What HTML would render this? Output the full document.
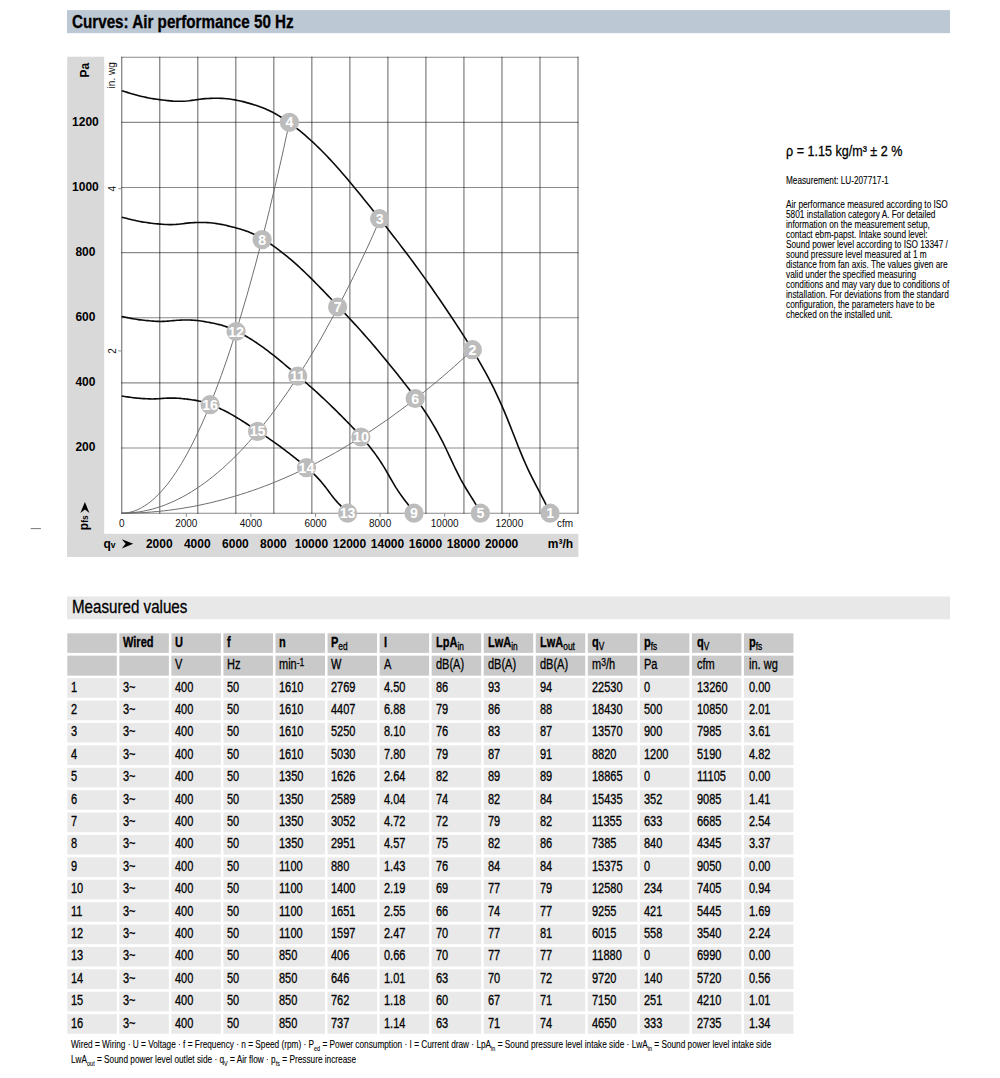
<!DOCTYPE html>
<html><head><meta charset="utf-8"><title>Curves: Air performance 50 Hz</title>
<style>
html,body{margin:0;padding:0;background:#fff}
body{width:1000px;height:1078px;position:relative;overflow:hidden;font-family:"Liberation Sans",sans-serif}
.t{position:absolute;white-space:nowrap;transform-origin:0 50%;color:#000;-webkit-text-stroke:0.3px #000}
.sb{font-size:66%;position:relative;top:0.34em;line-height:0}
.sn{font-weight:normal;font-size:76%;top:0.28em}
.sp{font-size:78%;position:relative;top:-0.36em;line-height:0}
</style></head><body>
<svg width="1000" height="1078" viewBox="0 0 1000 1078" style="position:absolute;left:0;top:0" font-family="Liberation Sans, sans-serif">
<rect x="67" y="10.1" width="883" height="23.1" fill="#bcc8d4"/>
<rect x="67" y="596.5" width="883" height="22.8" fill="#e8e8e8"/>
<rect x="67.2" y="56.7" width="37" height="500.3" fill="#d9d9d9"/>
<rect x="67.2" y="533.8" width="511.2" height="23.2" fill="#d9d9d9"/>
<rect x="30.7" y="528.1" width="10.2" height="1" fill="#777"/>
<path d="M121.70,56.7V513.7M159.72,56.7V513.7M197.75,56.7V513.7M235.78,56.7V513.7M273.80,56.7V513.7M311.82,56.7V513.7M349.85,56.7V513.7M387.88,56.7V513.7M425.90,56.7V513.7M463.92,56.7V513.7M501.95,56.7V513.7M539.98,56.7V513.7M578.00,56.7V513.7" stroke="#000" stroke-opacity="0.46" stroke-width="1.35" fill="none"/>
<path d="M121.2,57.20H578.5M121.2,122.34H578.5M121.2,187.49H578.5M121.2,252.63H578.5M121.2,317.77H578.5M121.2,382.91H578.5M121.2,448.06H578.5M121.2,513.20H578.5" stroke="#000" stroke-opacity="0.46" stroke-width="1.1" fill="none"/>
<path d="M118.2,350.9H121.7M118.2,188.7H121.7M186.3,513.2V516.8000000000001M250.9,513.2V516.8000000000001M315.5,513.2V516.8000000000001M380.1,513.2V516.8000000000001M444.7,513.2V516.8000000000001M509.3,513.2V516.8000000000001" stroke="#8a8a8a" stroke-width="1" fill="none"/>
<path d="M121.7,513.2 L124.5,513.1 L127.4,512.8 L130.2,512.2 L133.1,511.4 L135.9,510.4 L138.8,509.2 L141.6,507.7 L144.4,506.0 L147.3,504.1 L150.1,502.0 L153.0,499.6 L155.8,497.0 L158.6,494.2 L161.5,491.2 L164.3,487.9 L167.2,484.5 L170.0,480.8 L172.9,476.8 L175.7,472.7 L178.5,468.3 L181.4,463.7 L184.2,458.9 L187.1,453.8 L189.9,448.5 L192.8,443.0 L195.6,437.3 L198.4,431.3 L201.3,425.2 L204.1,418.8 L207.0,412.1 L209.8,405.3 L212.7,398.2 L215.5,390.9 L218.3,383.4 L221.2,375.7 L224.0,367.7 L226.9,359.5 L229.7,351.1 L232.5,342.4 L235.4,333.5 L238.2,324.5 L241.1,315.1 L243.9,305.6 L246.8,295.8 L249.6,285.8 L252.4,275.6 L255.3,265.2 L258.1,254.5 L261.0,243.6 L263.8,232.5 L266.7,221.2 L269.5,209.6 L272.3,197.8 L275.2,185.8 L278.0,173.5 L280.9,161.1 L283.7,148.4 L286.5,135.5 L289.4,122.3" stroke="#666" stroke-width="0.95" fill="none"/>
<path d="M121.7,513.2 L126.1,513.1 L130.4,512.9 L134.8,512.4 L139.2,511.9 L143.6,511.1 L147.9,510.2 L152.3,509.1 L156.7,507.8 L161.1,506.4 L165.4,504.8 L169.8,503.0 L174.2,501.1 L178.5,499.0 L182.9,496.7 L187.3,494.3 L191.7,491.6 L196.0,488.9 L200.4,485.9 L204.8,482.8 L209.2,479.5 L213.5,476.1 L217.9,472.4 L222.3,468.7 L226.6,464.7 L231.0,460.6 L235.4,456.3 L239.8,451.8 L244.1,447.2 L248.5,442.4 L252.9,437.4 L257.3,432.3 L261.6,427.0 L266.0,421.5 L270.4,415.9 L274.8,410.0 L279.1,404.1 L283.5,397.9 L287.9,391.6 L292.2,385.1 L296.6,378.5 L301.0,371.6 L305.4,364.6 L309.7,357.5 L314.1,350.2 L318.5,342.7 L322.9,335.0 L327.2,327.2 L331.6,319.2 L336.0,311.0 L340.3,302.7 L344.7,294.2 L349.1,285.5 L353.5,276.6 L357.8,267.6 L362.2,258.5 L366.6,249.1 L371.0,239.6 L375.3,229.9 L379.7,220.1" stroke="#666" stroke-width="0.95" fill="none"/>
<path d="M121.7,513.2 L127.6,513.2 L133.6,513.0 L139.5,512.8 L145.5,512.5 L151.4,512.0 L157.3,511.5 L163.3,510.9 L169.2,510.2 L175.2,509.4 L181.1,508.5 L187.0,507.5 L193.0,506.5 L198.9,505.3 L204.8,504.0 L210.8,502.7 L216.7,501.2 L222.7,499.7 L228.6,498.0 L234.5,496.3 L240.5,494.5 L246.4,492.6 L252.4,490.6 L258.3,488.5 L264.2,486.3 L270.2,484.0 L276.1,481.6 L282.1,479.1 L288.0,476.5 L293.9,473.9 L299.9,471.1 L305.8,468.2 L311.7,465.3 L317.7,462.3 L323.6,459.1 L329.6,455.9 L335.5,452.6 L341.4,449.2 L347.4,445.6 L353.3,442.0 L359.3,438.3 L365.2,434.6 L371.1,430.7 L377.1,426.7 L383.0,422.6 L389.0,418.5 L394.9,414.2 L400.8,409.9 L406.8,405.4 L412.7,400.9 L418.6,396.2 L424.6,391.5 L430.5,386.7 L436.5,381.8 L442.4,376.8 L448.3,371.7 L454.3,366.5 L460.2,361.2 L466.2,355.8 L472.1,350.3" stroke="#666" stroke-width="0.95" fill="none"/>
<path d="M121.80,90.80 L124.49,91.57 L127.19,92.38 L129.88,93.20 L132.58,94.01 L135.27,94.79 L137.97,95.52 L140.66,96.20 L143.36,96.82 L146.05,97.40 L148.75,97.93 L151.44,98.42 L154.14,98.87 L156.83,99.28 L159.53,99.65 L162.22,100.00 L164.92,100.32 L167.61,100.62 L170.31,100.88 L173.00,101.10 L175.70,101.24 L178.39,101.31 L181.09,101.29 L183.78,101.18 L186.48,100.99 L189.17,100.73 L191.87,100.39 L194.56,100.01 L197.26,99.61 L199.95,99.23 L202.65,98.90 L205.34,98.64 L208.04,98.45 L210.73,98.33 L213.43,98.26 L216.12,98.24 L218.82,98.27 L221.51,98.36 L224.21,98.52 L226.90,98.74 L229.60,99.04 L232.29,99.42 L234.99,99.88 L237.68,100.41 L240.38,101.00 L243.07,101.65 L245.77,102.36 L248.46,103.11 L251.16,103.89 L253.85,104.71 L256.55,105.58 L259.24,106.51 L261.94,107.50 L264.63,108.57 L267.33,109.73 L270.02,110.98 L272.72,112.33 L275.41,113.78 L278.11,115.33 L280.80,116.97 L283.50,118.70 L286.19,120.51 L288.89,122.41 L291.58,124.37 L294.28,126.41 L296.97,128.51 L299.67,130.68 L302.36,132.91 L305.06,135.20 L307.75,137.56 L310.45,139.98 L313.14,142.46 L315.84,145.01 L318.53,147.61 L321.23,150.28 L323.92,153.00 L326.62,155.79 L329.31,158.63 L332.01,161.53 L334.70,164.49 L337.40,167.50 L340.09,170.56 L342.79,173.67 L345.48,176.81 L348.18,179.99 L350.87,183.21 L353.57,186.45 L356.26,189.73 L358.96,193.02 L361.65,196.33 L364.35,199.66 L367.04,203.00 L369.74,206.35 L372.43,209.71 L375.13,213.07 L377.82,216.44 L380.52,219.81 L383.21,223.20 L385.91,226.60 L388.60,230.02 L391.30,233.45 L393.99,236.91 L396.69,240.38 L399.38,243.88 L402.08,247.40 L404.77,250.95 L407.47,254.52 L410.16,258.13 L412.86,261.77 L415.55,265.43 L418.25,269.13 L420.94,272.86 L423.64,276.62 L426.33,280.41 L429.03,284.23 L431.72,288.07 L434.42,291.95 L437.11,295.85 L439.81,299.77 L442.50,303.72 L445.20,307.69 L447.89,311.69 L450.59,315.72 L453.28,319.76 L455.98,323.84 L458.67,327.96 L461.37,332.12 L464.06,336.33 L466.76,340.60 L469.45,344.94 L472.15,349.34 L474.84,353.83 L477.54,358.39 L480.23,363.05 L482.93,367.81 L485.62,372.69 L488.32,377.70 L491.01,382.88 L493.71,388.23 L496.40,393.78 L499.10,399.54 L501.79,405.55 L504.49,411.81 L507.18,418.34 L509.88,425.08 L512.57,431.94 L515.27,438.83 L517.96,445.67 L520.66,452.37 L523.35,458.83 L526.05,464.98 L528.74,470.79 L531.44,476.32 L534.13,481.65 L536.83,486.85 L539.52,491.99 L542.22,497.14 L544.91,502.38 L547.61,507.77 L550.30,513.20" stroke="#0a0a0a" stroke-width="1.6" fill="none" stroke-linejoin="round"/>
<path d="M121.78,217.21 L124.04,217.75 L126.30,218.32 L128.56,218.90 L130.82,219.47 L133.08,220.02 L135.34,220.53 L137.60,221.01 L139.86,221.45 L142.12,221.85 L144.38,222.23 L146.64,222.57 L148.90,222.88 L151.16,223.17 L153.42,223.44 L155.68,223.68 L157.94,223.91 L160.20,224.12 L162.46,224.30 L164.72,224.45 L166.98,224.55 L169.24,224.60 L171.50,224.59 L173.76,224.51 L176.02,224.38 L178.28,224.19 L180.54,223.95 L182.80,223.68 L185.06,223.40 L187.32,223.14 L189.58,222.90 L191.84,222.72 L194.10,222.59 L196.36,222.50 L198.62,222.45 L200.88,222.44 L203.14,222.47 L205.39,222.53 L207.65,222.64 L209.91,222.79 L212.17,223.00 L214.43,223.27 L216.69,223.59 L218.95,223.97 L221.21,224.38 L223.47,224.84 L225.73,225.34 L227.99,225.86 L230.25,226.42 L232.51,226.99 L234.77,227.58 L237.03,228.19 L239.29,228.81 L241.55,229.47 L243.81,230.18 L246.07,230.95 L248.33,231.79 L250.59,232.70 L252.85,233.69 L255.11,234.75 L257.37,235.90 L259.63,237.12 L261.89,238.43 L264.15,239.81 L266.41,241.25 L268.67,242.72 L270.93,244.25 L273.19,245.82 L275.45,247.43 L277.71,249.09 L279.97,250.79 L282.23,252.53 L284.49,254.32 L286.75,256.15 L289.01,258.03 L291.27,259.95 L293.53,261.90 L295.79,263.90 L298.04,265.94 L300.30,268.02 L302.56,270.14 L304.82,272.29 L307.08,274.47 L309.34,276.68 L311.60,278.92 L313.86,281.18 L316.12,283.47 L318.38,285.77 L320.64,288.08 L322.90,290.41 L325.16,292.75 L327.42,295.10 L329.68,297.46 L331.94,299.82 L334.20,302.18 L336.46,304.55 L338.72,306.92 L340.98,309.30 L343.24,311.69 L345.50,314.10 L347.76,316.51 L350.02,318.94 L352.28,321.38 L354.54,323.84 L356.80,326.32 L359.06,328.81 L361.32,331.32 L363.58,333.86 L365.84,336.42 L368.10,339.00 L370.36,341.60 L372.62,344.22 L374.88,346.86 L377.14,349.53 L379.40,352.21 L381.66,354.92 L383.92,357.64 L386.18,360.38 L388.44,363.14 L390.69,365.91 L392.95,368.71 L395.21,371.52 L397.47,374.35 L399.73,377.20 L401.99,380.06 L404.25,382.96 L406.51,385.88 L408.77,388.84 L411.03,391.85 L413.29,394.89 L415.55,397.99 L417.81,401.14 L420.07,404.36 L422.33,407.63 L424.59,410.98 L426.85,414.41 L429.11,417.93 L431.37,421.57 L433.63,425.33 L435.89,429.23 L438.15,433.29 L440.41,437.51 L442.67,441.91 L444.93,446.50 L447.19,451.24 L449.45,456.07 L451.71,460.91 L453.97,465.72 L456.23,470.43 L458.49,474.97 L460.75,479.30 L463.01,483.38 L465.27,487.27 L467.53,491.02 L469.79,494.68 L472.05,498.29 L474.31,501.91 L476.57,505.59 L478.83,509.38 L481.09,513.20" stroke="#0a0a0a" stroke-width="1.6" fill="none" stroke-linejoin="round"/>
<path d="M121.77,316.52 L123.61,316.88 L125.45,317.26 L127.29,317.64 L129.13,318.02 L130.97,318.39 L132.82,318.73 L134.66,319.04 L136.50,319.33 L138.34,319.60 L140.18,319.85 L142.02,320.08 L143.86,320.29 L145.71,320.48 L147.55,320.66 L149.39,320.82 L151.23,320.97 L153.07,321.11 L154.91,321.23 L156.75,321.33 L158.59,321.40 L160.44,321.43 L162.28,321.42 L164.12,321.37 L165.96,321.28 L167.80,321.16 L169.64,321.00 L171.48,320.82 L173.32,320.63 L175.17,320.46 L177.01,320.30 L178.85,320.18 L180.69,320.09 L182.53,320.04 L184.37,320.00 L186.21,320.00 L188.05,320.01 L189.90,320.05 L191.74,320.12 L193.58,320.23 L195.42,320.37 L197.26,320.55 L199.10,320.76 L200.94,321.01 L202.78,321.29 L204.63,321.59 L206.47,321.92 L208.31,322.26 L210.15,322.61 L211.99,322.97 L213.83,323.34 L215.67,323.73 L217.52,324.16 L219.36,324.61 L221.20,325.10 L223.04,325.64 L224.88,326.23 L226.72,326.87 L228.56,327.55 L230.40,328.29 L232.25,329.07 L234.09,329.90 L235.93,330.78 L237.77,331.69 L239.61,332.64 L241.45,333.62 L243.29,334.64 L245.13,335.68 L246.98,336.75 L248.82,337.85 L250.66,338.98 L252.50,340.14 L254.34,341.33 L256.18,342.54 L258.02,343.79 L259.86,345.06 L261.71,346.36 L263.55,347.69 L265.39,349.04 L267.23,350.42 L269.07,351.83 L270.91,353.26 L272.75,354.70 L274.59,356.17 L276.44,357.66 L278.28,359.16 L280.12,360.67 L281.96,362.20 L283.80,363.74 L285.64,365.29 L287.48,366.84 L289.33,368.40 L291.17,369.96 L293.01,371.53 L294.85,373.10 L296.69,374.67 L298.53,376.25 L300.37,377.83 L302.21,379.42 L304.06,381.01 L305.90,382.61 L307.74,384.23 L309.58,385.85 L311.42,387.48 L313.26,389.12 L315.10,390.78 L316.94,392.45 L318.79,394.13 L320.63,395.83 L322.47,397.54 L324.31,399.27 L326.15,401.01 L327.99,402.77 L329.83,404.53 L331.67,406.32 L333.52,408.11 L335.36,409.92 L337.20,411.74 L339.04,413.57 L340.88,415.41 L342.72,417.27 L344.56,419.14 L346.40,421.01 L348.25,422.90 L350.09,424.81 L351.93,426.73 L353.77,428.67 L355.61,430.64 L357.45,432.63 L359.29,434.65 L361.14,436.71 L362.98,438.80 L364.82,440.94 L366.66,443.11 L368.50,445.33 L370.34,447.61 L372.18,449.95 L374.02,452.36 L375.87,454.86 L377.71,457.45 L379.55,460.15 L381.39,462.95 L383.23,465.87 L385.07,468.92 L386.91,472.06 L388.75,475.27 L390.60,478.49 L392.44,481.68 L394.28,484.80 L396.12,487.82 L397.96,490.69 L399.80,493.40 L401.64,495.99 L403.48,498.47 L405.33,500.90 L407.17,503.30 L409.01,505.71 L410.85,508.15 L412.69,510.66 L414.53,513.20" stroke="#0a0a0a" stroke-width="1.6" fill="none" stroke-linejoin="round"/>
<path d="M121.75,396.01 L123.18,396.23 L124.60,396.45 L126.02,396.68 L127.44,396.91 L128.87,397.13 L130.29,397.33 L131.71,397.52 L133.14,397.69 L134.56,397.85 L135.98,398.00 L137.40,398.14 L138.83,398.26 L140.25,398.38 L141.67,398.48 L143.09,398.58 L144.52,398.67 L145.94,398.75 L147.36,398.82 L148.79,398.88 L150.21,398.92 L151.63,398.94 L153.05,398.94 L154.48,398.91 L155.90,398.86 L157.32,398.78 L158.75,398.69 L160.17,398.58 L161.59,398.47 L163.01,398.36 L164.44,398.27 L165.86,398.20 L167.28,398.15 L168.71,398.11 L170.13,398.09 L171.55,398.09 L172.97,398.10 L174.40,398.12 L175.82,398.16 L177.24,398.23 L178.67,398.31 L180.09,398.42 L181.51,398.54 L182.93,398.68 L184.36,398.83 L185.78,398.99 L187.20,399.16 L188.62,399.34 L190.05,399.52 L191.47,399.71 L192.89,399.92 L194.32,400.14 L195.74,400.38 L197.16,400.64 L198.58,400.92 L200.01,401.23 L201.43,401.58 L202.85,401.95 L204.28,402.36 L205.70,402.79 L207.12,403.26 L208.54,403.75 L209.97,404.27 L211.39,404.82 L212.81,405.39 L214.24,405.97 L215.66,406.58 L217.08,407.20 L218.50,407.84 L219.93,408.50 L221.35,409.17 L222.77,409.86 L224.20,410.57 L225.62,411.30 L227.04,412.04 L228.46,412.80 L229.89,413.58 L231.31,414.37 L232.73,415.18 L234.15,416.00 L235.58,416.84 L237.00,417.70 L238.42,418.56 L239.85,419.44 L241.27,420.32 L242.69,421.22 L244.11,422.13 L245.54,423.04 L246.96,423.96 L248.38,424.88 L249.81,425.81 L251.23,426.74 L252.65,427.67 L254.07,428.61 L255.50,429.54 L256.92,430.48 L258.34,431.42 L259.77,432.37 L261.19,433.32 L262.61,434.27 L264.03,435.23 L265.46,436.19 L266.88,437.16 L268.30,438.13 L269.72,439.11 L271.15,440.10 L272.57,441.10 L273.99,442.10 L275.42,443.12 L276.84,444.14 L278.26,445.17 L279.68,446.21 L281.11,447.26 L282.53,448.31 L283.95,449.38 L285.38,450.45 L286.80,451.53 L288.22,452.62 L289.64,453.71 L291.07,454.81 L292.49,455.92 L293.91,457.03 L295.34,458.15 L296.76,459.28 L298.18,460.42 L299.60,461.57 L301.03,462.73 L302.45,463.90 L303.87,465.09 L305.30,466.30 L306.72,467.53 L308.14,468.78 L309.56,470.05 L310.99,471.35 L312.41,472.68 L313.83,474.03 L315.25,475.43 L316.68,476.87 L318.10,478.37 L319.52,479.91 L320.95,481.52 L322.37,483.19 L323.79,484.94 L325.21,486.76 L326.64,488.64 L328.06,490.55 L329.48,492.47 L330.91,494.38 L332.33,496.24 L333.75,498.05 L335.17,499.76 L336.60,501.38 L338.02,502.92 L339.44,504.41 L340.87,505.86 L342.29,507.29 L343.71,508.72 L345.13,510.18 L346.56,511.69 L347.98,513.20" stroke="#0a0a0a" stroke-width="1.6" fill="none" stroke-linejoin="round"/>
<circle cx="550.1" cy="513.2" r="9.6" fill="#bcbcbc"/>
<text x="550.1" y="518.2" font-size="14.2" font-weight="bold" fill="#fff" text-anchor="middle">1</text>
<circle cx="472.4" cy="349.7" r="9.6" fill="#bcbcbc"/>
<text x="472.4" y="354.7" font-size="14.2" font-weight="bold" fill="#fff" text-anchor="middle">2</text>
<circle cx="379.6" cy="218.7" r="9.6" fill="#bcbcbc"/>
<text x="379.6" y="223.7" font-size="14.2" font-weight="bold" fill="#fff" text-anchor="middle">3</text>
<circle cx="289.4" cy="122.3" r="9.6" fill="#bcbcbc"/>
<text x="289.4" y="127.3" font-size="14.2" font-weight="bold" fill="#fff" text-anchor="middle">4</text>
<circle cx="480.4" cy="513.2" r="9.6" fill="#bcbcbc"/>
<text x="480.4" y="518.2" font-size="14.2" font-weight="bold" fill="#fff" text-anchor="middle">5</text>
<circle cx="415.2" cy="398.5" r="9.6" fill="#bcbcbc"/>
<text x="415.2" y="403.5" font-size="14.2" font-weight="bold" fill="#fff" text-anchor="middle">6</text>
<circle cx="337.6" cy="307.0" r="9.6" fill="#bcbcbc"/>
<text x="337.6" y="312.0" font-size="14.2" font-weight="bold" fill="#fff" text-anchor="middle">7</text>
<circle cx="262.1" cy="239.6" r="9.6" fill="#bcbcbc"/>
<text x="262.1" y="244.6" font-size="14.2" font-weight="bold" fill="#fff" text-anchor="middle">8</text>
<circle cx="414.0" cy="513.2" r="9.6" fill="#bcbcbc"/>
<text x="414.0" y="518.2" font-size="14.2" font-weight="bold" fill="#fff" text-anchor="middle">9</text>
<circle cx="360.9" cy="437.0" r="9.6" fill="#bcbcbc"/>
<text x="360.9" y="442.0" font-size="14.2" font-weight="bold" fill="#fff" text-anchor="middle">10</text>
<circle cx="297.7" cy="376.1" r="9.6" fill="#bcbcbc"/>
<text x="297.7" y="381.1" font-size="14.2" font-weight="bold" fill="#fff" text-anchor="middle">11</text>
<circle cx="236.1" cy="331.5" r="9.6" fill="#bcbcbc"/>
<text x="236.1" y="336.5" font-size="14.2" font-weight="bold" fill="#fff" text-anchor="middle">12</text>
<circle cx="347.6" cy="513.2" r="9.6" fill="#bcbcbc"/>
<text x="347.6" y="518.2" font-size="14.2" font-weight="bold" fill="#fff" text-anchor="middle">13</text>
<circle cx="306.5" cy="467.6" r="9.6" fill="#bcbcbc"/>
<text x="306.5" y="472.6" font-size="14.2" font-weight="bold" fill="#fff" text-anchor="middle">14</text>
<circle cx="257.6" cy="431.4" r="9.6" fill="#bcbcbc"/>
<text x="257.6" y="436.4" font-size="14.2" font-weight="bold" fill="#fff" text-anchor="middle">15</text>
<circle cx="210.1" cy="404.7" r="9.6" fill="#bcbcbc"/>
<text x="210.1" y="409.7" font-size="14.2" font-weight="bold" fill="#fff" text-anchor="middle">16</text>
<text x="85.4" y="451.3" font-size="12" font-weight="bold" text-anchor="middle" fill="#000">200</text>
<text x="85.4" y="386.1" font-size="12" font-weight="bold" text-anchor="middle" fill="#000">400</text>
<text x="85.4" y="321.0" font-size="12" font-weight="bold" text-anchor="middle" fill="#000">600</text>
<text x="85.4" y="255.8" font-size="12" font-weight="bold" text-anchor="middle" fill="#000">800</text>
<text x="85.4" y="190.7" font-size="12" font-weight="bold" text-anchor="middle" fill="#000">1000</text>
<text x="85.4" y="125.5" font-size="12" font-weight="bold" text-anchor="middle" fill="#000">1200</text>
<text x="159.3" y="548.4" font-size="12" font-weight="bold" text-anchor="middle" fill="#000">2000</text>
<text x="197.3" y="548.4" font-size="12" font-weight="bold" text-anchor="middle" fill="#000">4000</text>
<text x="235.4" y="548.4" font-size="12" font-weight="bold" text-anchor="middle" fill="#000">6000</text>
<text x="273.4" y="548.4" font-size="12" font-weight="bold" text-anchor="middle" fill="#000">8000</text>
<text x="311.4" y="548.4" font-size="12" font-weight="bold" text-anchor="middle" fill="#000">10000</text>
<text x="349.5" y="548.4" font-size="12" font-weight="bold" text-anchor="middle" fill="#000">12000</text>
<text x="387.5" y="548.4" font-size="12" font-weight="bold" text-anchor="middle" fill="#000">14000</text>
<text x="425.5" y="548.4" font-size="12" font-weight="bold" text-anchor="middle" fill="#000">16000</text>
<text x="463.5" y="548.4" font-size="12" font-weight="bold" text-anchor="middle" fill="#000">18000</text>
<text x="501.6" y="548.4" font-size="12" font-weight="bold" text-anchor="middle" fill="#000">20000</text>
<text x="573.2" y="548.4" font-size="12" font-weight="bold" text-anchor="end" fill="#000">m³/h</text>
<text x="121.7" y="526.5" font-size="10" text-anchor="middle" fill="#111">0</text>
<text x="186.3" y="526.5" font-size="10" text-anchor="middle" fill="#111">2000</text>
<text x="250.9" y="526.5" font-size="10" text-anchor="middle" fill="#111">4000</text>
<text x="315.5" y="526.5" font-size="10" text-anchor="middle" fill="#111">6000</text>
<text x="380.1" y="526.5" font-size="10" text-anchor="middle" fill="#111">8000</text>
<text x="444.7" y="526.5" font-size="10" text-anchor="middle" fill="#111">10000</text>
<text x="509.3" y="526.5" font-size="10" text-anchor="middle" fill="#111">12000</text>
<text x="573.2" y="526.5" font-size="10" text-anchor="end" fill="#111">cfm</text>
<text transform="translate(115.9,350.9) rotate(-90)" font-size="10" text-anchor="middle" fill="#111">2</text>
<text transform="translate(115.9,188.7) rotate(-90)" font-size="10" text-anchor="middle" fill="#111">4</text>
<text transform="translate(115.2,88.4) rotate(-90)" font-size="10" fill="#111">in. wg</text>
<text transform="translate(89.2,77.5) rotate(-90)" font-size="12" font-weight="bold" fill="#000">Pa</text>
<g transform="translate(88.4,530.2) rotate(-90)"><text font-size="12" font-weight="bold" fill="#000">p<tspan font-size="8.5">fs</tspan></text><path transform="translate(17.2,-8)" d="M0,0L11,4.5L0,9L3.6,4.5Z" fill="#000"/></g>
<text x="103.4" y="548.4" font-size="12" font-weight="bold" fill="#000">q<tspan font-size="8.5">v</tspan></text>
<path transform="translate(121.8,539.2)" d="M0,0L11.4,4.6L0,9.2L3.8,4.6Z" fill="#000"/>
<rect x="67.30" y="633.30" width="49.5" height="19.6" fill="#c9c9c9"/>
<rect x="119.35" y="633.30" width="49.5" height="19.6" fill="#c9c9c9"/>
<rect x="171.40" y="633.30" width="49.5" height="19.6" fill="#c9c9c9"/>
<rect x="223.45" y="633.30" width="49.5" height="19.6" fill="#c9c9c9"/>
<rect x="275.50" y="633.30" width="49.5" height="19.6" fill="#c9c9c9"/>
<rect x="327.55" y="633.30" width="49.5" height="19.6" fill="#c9c9c9"/>
<rect x="379.60" y="633.30" width="49.5" height="19.6" fill="#c9c9c9"/>
<rect x="431.65" y="633.30" width="49.5" height="19.6" fill="#c9c9c9"/>
<rect x="483.70" y="633.30" width="49.5" height="19.6" fill="#c9c9c9"/>
<rect x="535.75" y="633.30" width="49.5" height="19.6" fill="#c9c9c9"/>
<rect x="587.80" y="633.30" width="49.5" height="19.6" fill="#c9c9c9"/>
<rect x="639.85" y="633.30" width="49.5" height="19.6" fill="#c9c9c9"/>
<rect x="691.90" y="633.30" width="49.5" height="19.6" fill="#c9c9c9"/>
<rect x="743.95" y="633.30" width="49.5" height="19.6" fill="#c9c9c9"/>
<rect x="67.30" y="655.65" width="49.5" height="20.0" fill="#c9c9c9"/>
<rect x="119.35" y="655.65" width="49.5" height="20.0" fill="#c9c9c9"/>
<rect x="171.40" y="655.65" width="49.5" height="20.0" fill="#c9c9c9"/>
<rect x="223.45" y="655.65" width="49.5" height="20.0" fill="#c9c9c9"/>
<rect x="275.50" y="655.65" width="49.5" height="20.0" fill="#c9c9c9"/>
<rect x="327.55" y="655.65" width="49.5" height="20.0" fill="#c9c9c9"/>
<rect x="379.60" y="655.65" width="49.5" height="20.0" fill="#c9c9c9"/>
<rect x="431.65" y="655.65" width="49.5" height="20.0" fill="#c9c9c9"/>
<rect x="483.70" y="655.65" width="49.5" height="20.0" fill="#c9c9c9"/>
<rect x="535.75" y="655.65" width="49.5" height="20.0" fill="#c9c9c9"/>
<rect x="587.80" y="655.65" width="49.5" height="20.0" fill="#c9c9c9"/>
<rect x="639.85" y="655.65" width="49.5" height="20.0" fill="#c9c9c9"/>
<rect x="691.90" y="655.65" width="49.5" height="20.0" fill="#c9c9c9"/>
<rect x="743.95" y="655.65" width="49.5" height="20.0" fill="#c9c9c9"/>
<rect x="67.30" y="678.15" width="49.5" height="19.6" fill="#e9e9e9"/>
<rect x="119.35" y="678.15" width="49.5" height="19.6" fill="#e9e9e9"/>
<rect x="171.40" y="678.15" width="49.5" height="19.6" fill="#e9e9e9"/>
<rect x="223.45" y="678.15" width="49.5" height="19.6" fill="#e9e9e9"/>
<rect x="275.50" y="678.15" width="49.5" height="19.6" fill="#e9e9e9"/>
<rect x="327.55" y="678.15" width="49.5" height="19.6" fill="#e9e9e9"/>
<rect x="379.60" y="678.15" width="49.5" height="19.6" fill="#e9e9e9"/>
<rect x="431.65" y="678.15" width="49.5" height="19.6" fill="#e9e9e9"/>
<rect x="483.70" y="678.15" width="49.5" height="19.6" fill="#e9e9e9"/>
<rect x="535.75" y="678.15" width="49.5" height="19.6" fill="#e9e9e9"/>
<rect x="587.80" y="678.15" width="49.5" height="19.6" fill="#e9e9e9"/>
<rect x="639.85" y="678.15" width="49.5" height="19.6" fill="#e9e9e9"/>
<rect x="691.90" y="678.15" width="49.5" height="19.6" fill="#e9e9e9"/>
<rect x="743.95" y="678.15" width="49.5" height="19.6" fill="#e9e9e9"/>
<rect x="67.30" y="700.55" width="49.5" height="19.6" fill="#e9e9e9"/>
<rect x="119.35" y="700.55" width="49.5" height="19.6" fill="#e9e9e9"/>
<rect x="171.40" y="700.55" width="49.5" height="19.6" fill="#e9e9e9"/>
<rect x="223.45" y="700.55" width="49.5" height="19.6" fill="#e9e9e9"/>
<rect x="275.50" y="700.55" width="49.5" height="19.6" fill="#e9e9e9"/>
<rect x="327.55" y="700.55" width="49.5" height="19.6" fill="#e9e9e9"/>
<rect x="379.60" y="700.55" width="49.5" height="19.6" fill="#e9e9e9"/>
<rect x="431.65" y="700.55" width="49.5" height="19.6" fill="#e9e9e9"/>
<rect x="483.70" y="700.55" width="49.5" height="19.6" fill="#e9e9e9"/>
<rect x="535.75" y="700.55" width="49.5" height="19.6" fill="#e9e9e9"/>
<rect x="587.80" y="700.55" width="49.5" height="19.6" fill="#e9e9e9"/>
<rect x="639.85" y="700.55" width="49.5" height="19.6" fill="#e9e9e9"/>
<rect x="691.90" y="700.55" width="49.5" height="19.6" fill="#e9e9e9"/>
<rect x="743.95" y="700.55" width="49.5" height="19.6" fill="#e9e9e9"/>
<rect x="67.30" y="722.95" width="49.5" height="19.6" fill="#e9e9e9"/>
<rect x="119.35" y="722.95" width="49.5" height="19.6" fill="#e9e9e9"/>
<rect x="171.40" y="722.95" width="49.5" height="19.6" fill="#e9e9e9"/>
<rect x="223.45" y="722.95" width="49.5" height="19.6" fill="#e9e9e9"/>
<rect x="275.50" y="722.95" width="49.5" height="19.6" fill="#e9e9e9"/>
<rect x="327.55" y="722.95" width="49.5" height="19.6" fill="#e9e9e9"/>
<rect x="379.60" y="722.95" width="49.5" height="19.6" fill="#e9e9e9"/>
<rect x="431.65" y="722.95" width="49.5" height="19.6" fill="#e9e9e9"/>
<rect x="483.70" y="722.95" width="49.5" height="19.6" fill="#e9e9e9"/>
<rect x="535.75" y="722.95" width="49.5" height="19.6" fill="#e9e9e9"/>
<rect x="587.80" y="722.95" width="49.5" height="19.6" fill="#e9e9e9"/>
<rect x="639.85" y="722.95" width="49.5" height="19.6" fill="#e9e9e9"/>
<rect x="691.90" y="722.95" width="49.5" height="19.6" fill="#e9e9e9"/>
<rect x="743.95" y="722.95" width="49.5" height="19.6" fill="#e9e9e9"/>
<rect x="67.30" y="745.35" width="49.5" height="19.6" fill="#e9e9e9"/>
<rect x="119.35" y="745.35" width="49.5" height="19.6" fill="#e9e9e9"/>
<rect x="171.40" y="745.35" width="49.5" height="19.6" fill="#e9e9e9"/>
<rect x="223.45" y="745.35" width="49.5" height="19.6" fill="#e9e9e9"/>
<rect x="275.50" y="745.35" width="49.5" height="19.6" fill="#e9e9e9"/>
<rect x="327.55" y="745.35" width="49.5" height="19.6" fill="#e9e9e9"/>
<rect x="379.60" y="745.35" width="49.5" height="19.6" fill="#e9e9e9"/>
<rect x="431.65" y="745.35" width="49.5" height="19.6" fill="#e9e9e9"/>
<rect x="483.70" y="745.35" width="49.5" height="19.6" fill="#e9e9e9"/>
<rect x="535.75" y="745.35" width="49.5" height="19.6" fill="#e9e9e9"/>
<rect x="587.80" y="745.35" width="49.5" height="19.6" fill="#e9e9e9"/>
<rect x="639.85" y="745.35" width="49.5" height="19.6" fill="#e9e9e9"/>
<rect x="691.90" y="745.35" width="49.5" height="19.6" fill="#e9e9e9"/>
<rect x="743.95" y="745.35" width="49.5" height="19.6" fill="#e9e9e9"/>
<rect x="67.30" y="767.75" width="49.5" height="19.6" fill="#e9e9e9"/>
<rect x="119.35" y="767.75" width="49.5" height="19.6" fill="#e9e9e9"/>
<rect x="171.40" y="767.75" width="49.5" height="19.6" fill="#e9e9e9"/>
<rect x="223.45" y="767.75" width="49.5" height="19.6" fill="#e9e9e9"/>
<rect x="275.50" y="767.75" width="49.5" height="19.6" fill="#e9e9e9"/>
<rect x="327.55" y="767.75" width="49.5" height="19.6" fill="#e9e9e9"/>
<rect x="379.60" y="767.75" width="49.5" height="19.6" fill="#e9e9e9"/>
<rect x="431.65" y="767.75" width="49.5" height="19.6" fill="#e9e9e9"/>
<rect x="483.70" y="767.75" width="49.5" height="19.6" fill="#e9e9e9"/>
<rect x="535.75" y="767.75" width="49.5" height="19.6" fill="#e9e9e9"/>
<rect x="587.80" y="767.75" width="49.5" height="19.6" fill="#e9e9e9"/>
<rect x="639.85" y="767.75" width="49.5" height="19.6" fill="#e9e9e9"/>
<rect x="691.90" y="767.75" width="49.5" height="19.6" fill="#e9e9e9"/>
<rect x="743.95" y="767.75" width="49.5" height="19.6" fill="#e9e9e9"/>
<rect x="67.30" y="790.15" width="49.5" height="19.6" fill="#e9e9e9"/>
<rect x="119.35" y="790.15" width="49.5" height="19.6" fill="#e9e9e9"/>
<rect x="171.40" y="790.15" width="49.5" height="19.6" fill="#e9e9e9"/>
<rect x="223.45" y="790.15" width="49.5" height="19.6" fill="#e9e9e9"/>
<rect x="275.50" y="790.15" width="49.5" height="19.6" fill="#e9e9e9"/>
<rect x="327.55" y="790.15" width="49.5" height="19.6" fill="#e9e9e9"/>
<rect x="379.60" y="790.15" width="49.5" height="19.6" fill="#e9e9e9"/>
<rect x="431.65" y="790.15" width="49.5" height="19.6" fill="#e9e9e9"/>
<rect x="483.70" y="790.15" width="49.5" height="19.6" fill="#e9e9e9"/>
<rect x="535.75" y="790.15" width="49.5" height="19.6" fill="#e9e9e9"/>
<rect x="587.80" y="790.15" width="49.5" height="19.6" fill="#e9e9e9"/>
<rect x="639.85" y="790.15" width="49.5" height="19.6" fill="#e9e9e9"/>
<rect x="691.90" y="790.15" width="49.5" height="19.6" fill="#e9e9e9"/>
<rect x="743.95" y="790.15" width="49.5" height="19.6" fill="#e9e9e9"/>
<rect x="67.30" y="812.55" width="49.5" height="19.6" fill="#e9e9e9"/>
<rect x="119.35" y="812.55" width="49.5" height="19.6" fill="#e9e9e9"/>
<rect x="171.40" y="812.55" width="49.5" height="19.6" fill="#e9e9e9"/>
<rect x="223.45" y="812.55" width="49.5" height="19.6" fill="#e9e9e9"/>
<rect x="275.50" y="812.55" width="49.5" height="19.6" fill="#e9e9e9"/>
<rect x="327.55" y="812.55" width="49.5" height="19.6" fill="#e9e9e9"/>
<rect x="379.60" y="812.55" width="49.5" height="19.6" fill="#e9e9e9"/>
<rect x="431.65" y="812.55" width="49.5" height="19.6" fill="#e9e9e9"/>
<rect x="483.70" y="812.55" width="49.5" height="19.6" fill="#e9e9e9"/>
<rect x="535.75" y="812.55" width="49.5" height="19.6" fill="#e9e9e9"/>
<rect x="587.80" y="812.55" width="49.5" height="19.6" fill="#e9e9e9"/>
<rect x="639.85" y="812.55" width="49.5" height="19.6" fill="#e9e9e9"/>
<rect x="691.90" y="812.55" width="49.5" height="19.6" fill="#e9e9e9"/>
<rect x="743.95" y="812.55" width="49.5" height="19.6" fill="#e9e9e9"/>
<rect x="67.30" y="834.95" width="49.5" height="19.6" fill="#e9e9e9"/>
<rect x="119.35" y="834.95" width="49.5" height="19.6" fill="#e9e9e9"/>
<rect x="171.40" y="834.95" width="49.5" height="19.6" fill="#e9e9e9"/>
<rect x="223.45" y="834.95" width="49.5" height="19.6" fill="#e9e9e9"/>
<rect x="275.50" y="834.95" width="49.5" height="19.6" fill="#e9e9e9"/>
<rect x="327.55" y="834.95" width="49.5" height="19.6" fill="#e9e9e9"/>
<rect x="379.60" y="834.95" width="49.5" height="19.6" fill="#e9e9e9"/>
<rect x="431.65" y="834.95" width="49.5" height="19.6" fill="#e9e9e9"/>
<rect x="483.70" y="834.95" width="49.5" height="19.6" fill="#e9e9e9"/>
<rect x="535.75" y="834.95" width="49.5" height="19.6" fill="#e9e9e9"/>
<rect x="587.80" y="834.95" width="49.5" height="19.6" fill="#e9e9e9"/>
<rect x="639.85" y="834.95" width="49.5" height="19.6" fill="#e9e9e9"/>
<rect x="691.90" y="834.95" width="49.5" height="19.6" fill="#e9e9e9"/>
<rect x="743.95" y="834.95" width="49.5" height="19.6" fill="#e9e9e9"/>
<rect x="67.30" y="857.35" width="49.5" height="19.6" fill="#e9e9e9"/>
<rect x="119.35" y="857.35" width="49.5" height="19.6" fill="#e9e9e9"/>
<rect x="171.40" y="857.35" width="49.5" height="19.6" fill="#e9e9e9"/>
<rect x="223.45" y="857.35" width="49.5" height="19.6" fill="#e9e9e9"/>
<rect x="275.50" y="857.35" width="49.5" height="19.6" fill="#e9e9e9"/>
<rect x="327.55" y="857.35" width="49.5" height="19.6" fill="#e9e9e9"/>
<rect x="379.60" y="857.35" width="49.5" height="19.6" fill="#e9e9e9"/>
<rect x="431.65" y="857.35" width="49.5" height="19.6" fill="#e9e9e9"/>
<rect x="483.70" y="857.35" width="49.5" height="19.6" fill="#e9e9e9"/>
<rect x="535.75" y="857.35" width="49.5" height="19.6" fill="#e9e9e9"/>
<rect x="587.80" y="857.35" width="49.5" height="19.6" fill="#e9e9e9"/>
<rect x="639.85" y="857.35" width="49.5" height="19.6" fill="#e9e9e9"/>
<rect x="691.90" y="857.35" width="49.5" height="19.6" fill="#e9e9e9"/>
<rect x="743.95" y="857.35" width="49.5" height="19.6" fill="#e9e9e9"/>
<rect x="67.30" y="879.75" width="49.5" height="19.6" fill="#e9e9e9"/>
<rect x="119.35" y="879.75" width="49.5" height="19.6" fill="#e9e9e9"/>
<rect x="171.40" y="879.75" width="49.5" height="19.6" fill="#e9e9e9"/>
<rect x="223.45" y="879.75" width="49.5" height="19.6" fill="#e9e9e9"/>
<rect x="275.50" y="879.75" width="49.5" height="19.6" fill="#e9e9e9"/>
<rect x="327.55" y="879.75" width="49.5" height="19.6" fill="#e9e9e9"/>
<rect x="379.60" y="879.75" width="49.5" height="19.6" fill="#e9e9e9"/>
<rect x="431.65" y="879.75" width="49.5" height="19.6" fill="#e9e9e9"/>
<rect x="483.70" y="879.75" width="49.5" height="19.6" fill="#e9e9e9"/>
<rect x="535.75" y="879.75" width="49.5" height="19.6" fill="#e9e9e9"/>
<rect x="587.80" y="879.75" width="49.5" height="19.6" fill="#e9e9e9"/>
<rect x="639.85" y="879.75" width="49.5" height="19.6" fill="#e9e9e9"/>
<rect x="691.90" y="879.75" width="49.5" height="19.6" fill="#e9e9e9"/>
<rect x="743.95" y="879.75" width="49.5" height="19.6" fill="#e9e9e9"/>
<rect x="67.30" y="902.15" width="49.5" height="19.6" fill="#e9e9e9"/>
<rect x="119.35" y="902.15" width="49.5" height="19.6" fill="#e9e9e9"/>
<rect x="171.40" y="902.15" width="49.5" height="19.6" fill="#e9e9e9"/>
<rect x="223.45" y="902.15" width="49.5" height="19.6" fill="#e9e9e9"/>
<rect x="275.50" y="902.15" width="49.5" height="19.6" fill="#e9e9e9"/>
<rect x="327.55" y="902.15" width="49.5" height="19.6" fill="#e9e9e9"/>
<rect x="379.60" y="902.15" width="49.5" height="19.6" fill="#e9e9e9"/>
<rect x="431.65" y="902.15" width="49.5" height="19.6" fill="#e9e9e9"/>
<rect x="483.70" y="902.15" width="49.5" height="19.6" fill="#e9e9e9"/>
<rect x="535.75" y="902.15" width="49.5" height="19.6" fill="#e9e9e9"/>
<rect x="587.80" y="902.15" width="49.5" height="19.6" fill="#e9e9e9"/>
<rect x="639.85" y="902.15" width="49.5" height="19.6" fill="#e9e9e9"/>
<rect x="691.90" y="902.15" width="49.5" height="19.6" fill="#e9e9e9"/>
<rect x="743.95" y="902.15" width="49.5" height="19.6" fill="#e9e9e9"/>
<rect x="67.30" y="924.55" width="49.5" height="19.6" fill="#e9e9e9"/>
<rect x="119.35" y="924.55" width="49.5" height="19.6" fill="#e9e9e9"/>
<rect x="171.40" y="924.55" width="49.5" height="19.6" fill="#e9e9e9"/>
<rect x="223.45" y="924.55" width="49.5" height="19.6" fill="#e9e9e9"/>
<rect x="275.50" y="924.55" width="49.5" height="19.6" fill="#e9e9e9"/>
<rect x="327.55" y="924.55" width="49.5" height="19.6" fill="#e9e9e9"/>
<rect x="379.60" y="924.55" width="49.5" height="19.6" fill="#e9e9e9"/>
<rect x="431.65" y="924.55" width="49.5" height="19.6" fill="#e9e9e9"/>
<rect x="483.70" y="924.55" width="49.5" height="19.6" fill="#e9e9e9"/>
<rect x="535.75" y="924.55" width="49.5" height="19.6" fill="#e9e9e9"/>
<rect x="587.80" y="924.55" width="49.5" height="19.6" fill="#e9e9e9"/>
<rect x="639.85" y="924.55" width="49.5" height="19.6" fill="#e9e9e9"/>
<rect x="691.90" y="924.55" width="49.5" height="19.6" fill="#e9e9e9"/>
<rect x="743.95" y="924.55" width="49.5" height="19.6" fill="#e9e9e9"/>
<rect x="67.30" y="946.95" width="49.5" height="19.6" fill="#e9e9e9"/>
<rect x="119.35" y="946.95" width="49.5" height="19.6" fill="#e9e9e9"/>
<rect x="171.40" y="946.95" width="49.5" height="19.6" fill="#e9e9e9"/>
<rect x="223.45" y="946.95" width="49.5" height="19.6" fill="#e9e9e9"/>
<rect x="275.50" y="946.95" width="49.5" height="19.6" fill="#e9e9e9"/>
<rect x="327.55" y="946.95" width="49.5" height="19.6" fill="#e9e9e9"/>
<rect x="379.60" y="946.95" width="49.5" height="19.6" fill="#e9e9e9"/>
<rect x="431.65" y="946.95" width="49.5" height="19.6" fill="#e9e9e9"/>
<rect x="483.70" y="946.95" width="49.5" height="19.6" fill="#e9e9e9"/>
<rect x="535.75" y="946.95" width="49.5" height="19.6" fill="#e9e9e9"/>
<rect x="587.80" y="946.95" width="49.5" height="19.6" fill="#e9e9e9"/>
<rect x="639.85" y="946.95" width="49.5" height="19.6" fill="#e9e9e9"/>
<rect x="691.90" y="946.95" width="49.5" height="19.6" fill="#e9e9e9"/>
<rect x="743.95" y="946.95" width="49.5" height="19.6" fill="#e9e9e9"/>
<rect x="67.30" y="969.35" width="49.5" height="19.6" fill="#e9e9e9"/>
<rect x="119.35" y="969.35" width="49.5" height="19.6" fill="#e9e9e9"/>
<rect x="171.40" y="969.35" width="49.5" height="19.6" fill="#e9e9e9"/>
<rect x="223.45" y="969.35" width="49.5" height="19.6" fill="#e9e9e9"/>
<rect x="275.50" y="969.35" width="49.5" height="19.6" fill="#e9e9e9"/>
<rect x="327.55" y="969.35" width="49.5" height="19.6" fill="#e9e9e9"/>
<rect x="379.60" y="969.35" width="49.5" height="19.6" fill="#e9e9e9"/>
<rect x="431.65" y="969.35" width="49.5" height="19.6" fill="#e9e9e9"/>
<rect x="483.70" y="969.35" width="49.5" height="19.6" fill="#e9e9e9"/>
<rect x="535.75" y="969.35" width="49.5" height="19.6" fill="#e9e9e9"/>
<rect x="587.80" y="969.35" width="49.5" height="19.6" fill="#e9e9e9"/>
<rect x="639.85" y="969.35" width="49.5" height="19.6" fill="#e9e9e9"/>
<rect x="691.90" y="969.35" width="49.5" height="19.6" fill="#e9e9e9"/>
<rect x="743.95" y="969.35" width="49.5" height="19.6" fill="#e9e9e9"/>
<rect x="67.30" y="991.75" width="49.5" height="19.6" fill="#e9e9e9"/>
<rect x="119.35" y="991.75" width="49.5" height="19.6" fill="#e9e9e9"/>
<rect x="171.40" y="991.75" width="49.5" height="19.6" fill="#e9e9e9"/>
<rect x="223.45" y="991.75" width="49.5" height="19.6" fill="#e9e9e9"/>
<rect x="275.50" y="991.75" width="49.5" height="19.6" fill="#e9e9e9"/>
<rect x="327.55" y="991.75" width="49.5" height="19.6" fill="#e9e9e9"/>
<rect x="379.60" y="991.75" width="49.5" height="19.6" fill="#e9e9e9"/>
<rect x="431.65" y="991.75" width="49.5" height="19.6" fill="#e9e9e9"/>
<rect x="483.70" y="991.75" width="49.5" height="19.6" fill="#e9e9e9"/>
<rect x="535.75" y="991.75" width="49.5" height="19.6" fill="#e9e9e9"/>
<rect x="587.80" y="991.75" width="49.5" height="19.6" fill="#e9e9e9"/>
<rect x="639.85" y="991.75" width="49.5" height="19.6" fill="#e9e9e9"/>
<rect x="691.90" y="991.75" width="49.5" height="19.6" fill="#e9e9e9"/>
<rect x="743.95" y="991.75" width="49.5" height="19.6" fill="#e9e9e9"/>
<rect x="67.30" y="1014.15" width="49.5" height="19.6" fill="#e9e9e9"/>
<rect x="119.35" y="1014.15" width="49.5" height="19.6" fill="#e9e9e9"/>
<rect x="171.40" y="1014.15" width="49.5" height="19.6" fill="#e9e9e9"/>
<rect x="223.45" y="1014.15" width="49.5" height="19.6" fill="#e9e9e9"/>
<rect x="275.50" y="1014.15" width="49.5" height="19.6" fill="#e9e9e9"/>
<rect x="327.55" y="1014.15" width="49.5" height="19.6" fill="#e9e9e9"/>
<rect x="379.60" y="1014.15" width="49.5" height="19.6" fill="#e9e9e9"/>
<rect x="431.65" y="1014.15" width="49.5" height="19.6" fill="#e9e9e9"/>
<rect x="483.70" y="1014.15" width="49.5" height="19.6" fill="#e9e9e9"/>
<rect x="535.75" y="1014.15" width="49.5" height="19.6" fill="#e9e9e9"/>
<rect x="587.80" y="1014.15" width="49.5" height="19.6" fill="#e9e9e9"/>
<rect x="639.85" y="1014.15" width="49.5" height="19.6" fill="#e9e9e9"/>
<rect x="691.90" y="1014.15" width="49.5" height="19.6" fill="#e9e9e9"/>
<rect x="743.95" y="1014.15" width="49.5" height="19.6" fill="#e9e9e9"/>
</svg>
<div class="t" style="left:72.10px;top:11.75px;font-size:17.8px;line-height:21.36px;font-weight:bold;color:#000;transform:scaleX(0.855);">Curves: Air performance 50 Hz</div>
<div class="t" style="left:72.00px;top:597.15px;font-size:17.8px;line-height:21.36px;color:#000;transform:scaleX(0.852);">Measured values</div>
<div class="t" style="left:785.90px;top:141.60px;font-size:15px;line-height:18.00px;color:#000;transform:scaleX(0.838);">ρ = 1.15 kg/m³ ± 2 %</div>
<div class="t" style="left:785.90px;top:175.23px;font-size:10px;line-height:12.00px;color:#000;transform:scaleX(0.821);-webkit-text-stroke-width:0.1px;">Measurement: LU-207717-1</div>
<div class="t" style="left:785.9px;top:199.50px;font-size:10px;line-height:10.06px;transform:scaleX(0.827);transform-origin:0 0;-webkit-text-stroke-width:0.1px">Air performance measured according to ISO<br>5801 installation category A. For detailed<br>information on the measurement setup,<br>contact ebm-papst. Intake sound level:<br>Sound power level according to ISO 13347 /<br>sound pressure level measured at 1 m<br>distance from fan axis. The values given are<br>valid under the specified measuring<br>conditions and may vary due to conditions of<br>installation. For deviations from the standard<br>configuration, the parameters have to be<br>checked on the installed unit.</div>
<div class="t" style="left:122.76px;top:633.55px;font-size:14px;line-height:16.80px;font-weight:bold;color:#000;transform:scaleX(0.786);">Wired</div>
<div class="t" style="left:174.92px;top:633.55px;font-size:14px;line-height:16.80px;font-weight:bold;color:#000;transform:scaleX(0.786);">U</div>
<div class="t" style="left:227.08px;top:633.55px;font-size:14px;line-height:16.80px;font-weight:bold;color:#000;transform:scaleX(0.786);">f</div>
<div class="t" style="left:279.24px;top:633.55px;font-size:14px;line-height:16.80px;font-weight:bold;color:#000;transform:scaleX(0.786);">n</div>
<div class="t" style="left:331.40px;top:633.55px;font-size:14px;line-height:16.80px;font-weight:bold;color:#000;transform:scaleX(0.786);">P<span class="sb sn">ed</span></div>
<div class="t" style="left:383.56px;top:633.55px;font-size:14px;line-height:16.80px;font-weight:bold;color:#000;transform:scaleX(0.786);">I</div>
<div class="t" style="left:435.72px;top:633.55px;font-size:14px;line-height:16.80px;font-weight:bold;color:#000;transform:scaleX(0.786);">LpA<span class="sb sn">in</span></div>
<div class="t" style="left:487.88px;top:633.55px;font-size:14px;line-height:16.80px;font-weight:bold;color:#000;transform:scaleX(0.786);">LwA<span class="sb sn">in</span></div>
<div class="t" style="left:540.04px;top:633.55px;font-size:14px;line-height:16.80px;font-weight:bold;color:#000;transform:scaleX(0.786);">LwA<span class="sb sn">out</span></div>
<div class="t" style="left:592.20px;top:633.55px;font-size:14px;line-height:16.80px;font-weight:bold;color:#000;transform:scaleX(0.786);">q<span class="sb sn">V</span></div>
<div class="t" style="left:644.36px;top:633.55px;font-size:14px;line-height:16.80px;font-weight:bold;color:#000;transform:scaleX(0.786);">p<span class="sb sn">fs</span></div>
<div class="t" style="left:696.52px;top:633.55px;font-size:14px;line-height:16.80px;font-weight:bold;color:#000;transform:scaleX(0.786);">q<span class="sb sn">V</span></div>
<div class="t" style="left:748.68px;top:633.55px;font-size:14px;line-height:16.80px;font-weight:bold;color:#000;transform:scaleX(0.786);">p<span class="sb sn">fs</span></div>
<div class="t" style="left:174.92px;top:656.45px;font-size:14px;line-height:16.80px;color:#000;transform:scaleX(0.786);">V</div>
<div class="t" style="left:227.08px;top:656.45px;font-size:14px;line-height:16.80px;color:#000;transform:scaleX(0.786);">Hz</div>
<div class="t" style="left:279.24px;top:656.45px;font-size:14px;line-height:16.80px;color:#000;transform:scaleX(0.786);">min<span class="sp">-1</span></div>
<div class="t" style="left:331.40px;top:656.45px;font-size:14px;line-height:16.80px;color:#000;transform:scaleX(0.786);">W</div>
<div class="t" style="left:383.56px;top:656.45px;font-size:14px;line-height:16.80px;color:#000;transform:scaleX(0.786);">A</div>
<div class="t" style="left:435.72px;top:656.45px;font-size:14px;line-height:16.80px;color:#000;transform:scaleX(0.786);">dB(A)</div>
<div class="t" style="left:487.88px;top:656.45px;font-size:14px;line-height:16.80px;color:#000;transform:scaleX(0.786);">dB(A)</div>
<div class="t" style="left:540.04px;top:656.45px;font-size:14px;line-height:16.80px;color:#000;transform:scaleX(0.786);">dB(A)</div>
<div class="t" style="left:592.20px;top:656.45px;font-size:14px;line-height:16.80px;color:#000;transform:scaleX(0.786);">m<span class="sp">3</span>/h</div>
<div class="t" style="left:644.36px;top:656.45px;font-size:14px;line-height:16.80px;color:#000;transform:scaleX(0.786);">Pa</div>
<div class="t" style="left:696.52px;top:656.45px;font-size:14px;line-height:16.80px;color:#000;transform:scaleX(0.786);">cfm</div>
<div class="t" style="left:748.68px;top:656.45px;font-size:14px;line-height:16.80px;color:#000;transform:scaleX(0.786);">in. wg</div>
<div class="t" style="left:70.60px;top:678.50px;font-size:14px;line-height:16.80px;color:#000;transform:scaleX(0.786);">1</div>
<div class="t" style="left:122.76px;top:678.50px;font-size:14px;line-height:16.80px;color:#000;transform:scaleX(0.786);">3~</div>
<div class="t" style="left:174.92px;top:678.50px;font-size:14px;line-height:16.80px;color:#000;transform:scaleX(0.786);">400</div>
<div class="t" style="left:227.08px;top:678.50px;font-size:14px;line-height:16.80px;color:#000;transform:scaleX(0.786);">50</div>
<div class="t" style="left:279.24px;top:678.50px;font-size:14px;line-height:16.80px;color:#000;transform:scaleX(0.786);">1610</div>
<div class="t" style="left:331.40px;top:678.50px;font-size:14px;line-height:16.80px;color:#000;transform:scaleX(0.786);">2769</div>
<div class="t" style="left:383.56px;top:678.50px;font-size:14px;line-height:16.80px;color:#000;transform:scaleX(0.786);">4.50</div>
<div class="t" style="left:435.72px;top:678.50px;font-size:14px;line-height:16.80px;color:#000;transform:scaleX(0.786);">86</div>
<div class="t" style="left:487.88px;top:678.50px;font-size:14px;line-height:16.80px;color:#000;transform:scaleX(0.786);">93</div>
<div class="t" style="left:540.04px;top:678.50px;font-size:14px;line-height:16.80px;color:#000;transform:scaleX(0.786);">94</div>
<div class="t" style="left:592.20px;top:678.50px;font-size:14px;line-height:16.80px;color:#000;transform:scaleX(0.786);">22530</div>
<div class="t" style="left:644.36px;top:678.50px;font-size:14px;line-height:16.80px;color:#000;transform:scaleX(0.786);">0</div>
<div class="t" style="left:696.52px;top:678.50px;font-size:14px;line-height:16.80px;color:#000;transform:scaleX(0.786);">13260</div>
<div class="t" style="left:748.68px;top:678.50px;font-size:14px;line-height:16.80px;color:#000;transform:scaleX(0.786);">0.00</div>
<div class="t" style="left:70.60px;top:700.90px;font-size:14px;line-height:16.80px;color:#000;transform:scaleX(0.786);">2</div>
<div class="t" style="left:122.76px;top:700.90px;font-size:14px;line-height:16.80px;color:#000;transform:scaleX(0.786);">3~</div>
<div class="t" style="left:174.92px;top:700.90px;font-size:14px;line-height:16.80px;color:#000;transform:scaleX(0.786);">400</div>
<div class="t" style="left:227.08px;top:700.90px;font-size:14px;line-height:16.80px;color:#000;transform:scaleX(0.786);">50</div>
<div class="t" style="left:279.24px;top:700.90px;font-size:14px;line-height:16.80px;color:#000;transform:scaleX(0.786);">1610</div>
<div class="t" style="left:331.40px;top:700.90px;font-size:14px;line-height:16.80px;color:#000;transform:scaleX(0.786);">4407</div>
<div class="t" style="left:383.56px;top:700.90px;font-size:14px;line-height:16.80px;color:#000;transform:scaleX(0.786);">6.88</div>
<div class="t" style="left:435.72px;top:700.90px;font-size:14px;line-height:16.80px;color:#000;transform:scaleX(0.786);">79</div>
<div class="t" style="left:487.88px;top:700.90px;font-size:14px;line-height:16.80px;color:#000;transform:scaleX(0.786);">86</div>
<div class="t" style="left:540.04px;top:700.90px;font-size:14px;line-height:16.80px;color:#000;transform:scaleX(0.786);">88</div>
<div class="t" style="left:592.20px;top:700.90px;font-size:14px;line-height:16.80px;color:#000;transform:scaleX(0.786);">18430</div>
<div class="t" style="left:644.36px;top:700.90px;font-size:14px;line-height:16.80px;color:#000;transform:scaleX(0.786);">500</div>
<div class="t" style="left:696.52px;top:700.90px;font-size:14px;line-height:16.80px;color:#000;transform:scaleX(0.786);">10850</div>
<div class="t" style="left:748.68px;top:700.90px;font-size:14px;line-height:16.80px;color:#000;transform:scaleX(0.786);">2.01</div>
<div class="t" style="left:70.60px;top:723.30px;font-size:14px;line-height:16.80px;color:#000;transform:scaleX(0.786);">3</div>
<div class="t" style="left:122.76px;top:723.30px;font-size:14px;line-height:16.80px;color:#000;transform:scaleX(0.786);">3~</div>
<div class="t" style="left:174.92px;top:723.30px;font-size:14px;line-height:16.80px;color:#000;transform:scaleX(0.786);">400</div>
<div class="t" style="left:227.08px;top:723.30px;font-size:14px;line-height:16.80px;color:#000;transform:scaleX(0.786);">50</div>
<div class="t" style="left:279.24px;top:723.30px;font-size:14px;line-height:16.80px;color:#000;transform:scaleX(0.786);">1610</div>
<div class="t" style="left:331.40px;top:723.30px;font-size:14px;line-height:16.80px;color:#000;transform:scaleX(0.786);">5250</div>
<div class="t" style="left:383.56px;top:723.30px;font-size:14px;line-height:16.80px;color:#000;transform:scaleX(0.786);">8.10</div>
<div class="t" style="left:435.72px;top:723.30px;font-size:14px;line-height:16.80px;color:#000;transform:scaleX(0.786);">76</div>
<div class="t" style="left:487.88px;top:723.30px;font-size:14px;line-height:16.80px;color:#000;transform:scaleX(0.786);">83</div>
<div class="t" style="left:540.04px;top:723.30px;font-size:14px;line-height:16.80px;color:#000;transform:scaleX(0.786);">87</div>
<div class="t" style="left:592.20px;top:723.30px;font-size:14px;line-height:16.80px;color:#000;transform:scaleX(0.786);">13570</div>
<div class="t" style="left:644.36px;top:723.30px;font-size:14px;line-height:16.80px;color:#000;transform:scaleX(0.786);">900</div>
<div class="t" style="left:696.52px;top:723.30px;font-size:14px;line-height:16.80px;color:#000;transform:scaleX(0.786);">7985</div>
<div class="t" style="left:748.68px;top:723.30px;font-size:14px;line-height:16.80px;color:#000;transform:scaleX(0.786);">3.61</div>
<div class="t" style="left:70.60px;top:745.70px;font-size:14px;line-height:16.80px;color:#000;transform:scaleX(0.786);">4</div>
<div class="t" style="left:122.76px;top:745.70px;font-size:14px;line-height:16.80px;color:#000;transform:scaleX(0.786);">3~</div>
<div class="t" style="left:174.92px;top:745.70px;font-size:14px;line-height:16.80px;color:#000;transform:scaleX(0.786);">400</div>
<div class="t" style="left:227.08px;top:745.70px;font-size:14px;line-height:16.80px;color:#000;transform:scaleX(0.786);">50</div>
<div class="t" style="left:279.24px;top:745.70px;font-size:14px;line-height:16.80px;color:#000;transform:scaleX(0.786);">1610</div>
<div class="t" style="left:331.40px;top:745.70px;font-size:14px;line-height:16.80px;color:#000;transform:scaleX(0.786);">5030</div>
<div class="t" style="left:383.56px;top:745.70px;font-size:14px;line-height:16.80px;color:#000;transform:scaleX(0.786);">7.80</div>
<div class="t" style="left:435.72px;top:745.70px;font-size:14px;line-height:16.80px;color:#000;transform:scaleX(0.786);">79</div>
<div class="t" style="left:487.88px;top:745.70px;font-size:14px;line-height:16.80px;color:#000;transform:scaleX(0.786);">87</div>
<div class="t" style="left:540.04px;top:745.70px;font-size:14px;line-height:16.80px;color:#000;transform:scaleX(0.786);">91</div>
<div class="t" style="left:592.20px;top:745.70px;font-size:14px;line-height:16.80px;color:#000;transform:scaleX(0.786);">8820</div>
<div class="t" style="left:644.36px;top:745.70px;font-size:14px;line-height:16.80px;color:#000;transform:scaleX(0.786);">1200</div>
<div class="t" style="left:696.52px;top:745.70px;font-size:14px;line-height:16.80px;color:#000;transform:scaleX(0.786);">5190</div>
<div class="t" style="left:748.68px;top:745.70px;font-size:14px;line-height:16.80px;color:#000;transform:scaleX(0.786);">4.82</div>
<div class="t" style="left:70.60px;top:768.10px;font-size:14px;line-height:16.80px;color:#000;transform:scaleX(0.786);">5</div>
<div class="t" style="left:122.76px;top:768.10px;font-size:14px;line-height:16.80px;color:#000;transform:scaleX(0.786);">3~</div>
<div class="t" style="left:174.92px;top:768.10px;font-size:14px;line-height:16.80px;color:#000;transform:scaleX(0.786);">400</div>
<div class="t" style="left:227.08px;top:768.10px;font-size:14px;line-height:16.80px;color:#000;transform:scaleX(0.786);">50</div>
<div class="t" style="left:279.24px;top:768.10px;font-size:14px;line-height:16.80px;color:#000;transform:scaleX(0.786);">1350</div>
<div class="t" style="left:331.40px;top:768.10px;font-size:14px;line-height:16.80px;color:#000;transform:scaleX(0.786);">1626</div>
<div class="t" style="left:383.56px;top:768.10px;font-size:14px;line-height:16.80px;color:#000;transform:scaleX(0.786);">2.64</div>
<div class="t" style="left:435.72px;top:768.10px;font-size:14px;line-height:16.80px;color:#000;transform:scaleX(0.786);">82</div>
<div class="t" style="left:487.88px;top:768.10px;font-size:14px;line-height:16.80px;color:#000;transform:scaleX(0.786);">89</div>
<div class="t" style="left:540.04px;top:768.10px;font-size:14px;line-height:16.80px;color:#000;transform:scaleX(0.786);">89</div>
<div class="t" style="left:592.20px;top:768.10px;font-size:14px;line-height:16.80px;color:#000;transform:scaleX(0.786);">18865</div>
<div class="t" style="left:644.36px;top:768.10px;font-size:14px;line-height:16.80px;color:#000;transform:scaleX(0.786);">0</div>
<div class="t" style="left:696.52px;top:768.10px;font-size:14px;line-height:16.80px;color:#000;transform:scaleX(0.786);">11105</div>
<div class="t" style="left:748.68px;top:768.10px;font-size:14px;line-height:16.80px;color:#000;transform:scaleX(0.786);">0.00</div>
<div class="t" style="left:70.60px;top:790.50px;font-size:14px;line-height:16.80px;color:#000;transform:scaleX(0.786);">6</div>
<div class="t" style="left:122.76px;top:790.50px;font-size:14px;line-height:16.80px;color:#000;transform:scaleX(0.786);">3~</div>
<div class="t" style="left:174.92px;top:790.50px;font-size:14px;line-height:16.80px;color:#000;transform:scaleX(0.786);">400</div>
<div class="t" style="left:227.08px;top:790.50px;font-size:14px;line-height:16.80px;color:#000;transform:scaleX(0.786);">50</div>
<div class="t" style="left:279.24px;top:790.50px;font-size:14px;line-height:16.80px;color:#000;transform:scaleX(0.786);">1350</div>
<div class="t" style="left:331.40px;top:790.50px;font-size:14px;line-height:16.80px;color:#000;transform:scaleX(0.786);">2589</div>
<div class="t" style="left:383.56px;top:790.50px;font-size:14px;line-height:16.80px;color:#000;transform:scaleX(0.786);">4.04</div>
<div class="t" style="left:435.72px;top:790.50px;font-size:14px;line-height:16.80px;color:#000;transform:scaleX(0.786);">74</div>
<div class="t" style="left:487.88px;top:790.50px;font-size:14px;line-height:16.80px;color:#000;transform:scaleX(0.786);">82</div>
<div class="t" style="left:540.04px;top:790.50px;font-size:14px;line-height:16.80px;color:#000;transform:scaleX(0.786);">84</div>
<div class="t" style="left:592.20px;top:790.50px;font-size:14px;line-height:16.80px;color:#000;transform:scaleX(0.786);">15435</div>
<div class="t" style="left:644.36px;top:790.50px;font-size:14px;line-height:16.80px;color:#000;transform:scaleX(0.786);">352</div>
<div class="t" style="left:696.52px;top:790.50px;font-size:14px;line-height:16.80px;color:#000;transform:scaleX(0.786);">9085</div>
<div class="t" style="left:748.68px;top:790.50px;font-size:14px;line-height:16.80px;color:#000;transform:scaleX(0.786);">1.41</div>
<div class="t" style="left:70.60px;top:812.90px;font-size:14px;line-height:16.80px;color:#000;transform:scaleX(0.786);">7</div>
<div class="t" style="left:122.76px;top:812.90px;font-size:14px;line-height:16.80px;color:#000;transform:scaleX(0.786);">3~</div>
<div class="t" style="left:174.92px;top:812.90px;font-size:14px;line-height:16.80px;color:#000;transform:scaleX(0.786);">400</div>
<div class="t" style="left:227.08px;top:812.90px;font-size:14px;line-height:16.80px;color:#000;transform:scaleX(0.786);">50</div>
<div class="t" style="left:279.24px;top:812.90px;font-size:14px;line-height:16.80px;color:#000;transform:scaleX(0.786);">1350</div>
<div class="t" style="left:331.40px;top:812.90px;font-size:14px;line-height:16.80px;color:#000;transform:scaleX(0.786);">3052</div>
<div class="t" style="left:383.56px;top:812.90px;font-size:14px;line-height:16.80px;color:#000;transform:scaleX(0.786);">4.72</div>
<div class="t" style="left:435.72px;top:812.90px;font-size:14px;line-height:16.80px;color:#000;transform:scaleX(0.786);">72</div>
<div class="t" style="left:487.88px;top:812.90px;font-size:14px;line-height:16.80px;color:#000;transform:scaleX(0.786);">79</div>
<div class="t" style="left:540.04px;top:812.90px;font-size:14px;line-height:16.80px;color:#000;transform:scaleX(0.786);">82</div>
<div class="t" style="left:592.20px;top:812.90px;font-size:14px;line-height:16.80px;color:#000;transform:scaleX(0.786);">11355</div>
<div class="t" style="left:644.36px;top:812.90px;font-size:14px;line-height:16.80px;color:#000;transform:scaleX(0.786);">633</div>
<div class="t" style="left:696.52px;top:812.90px;font-size:14px;line-height:16.80px;color:#000;transform:scaleX(0.786);">6685</div>
<div class="t" style="left:748.68px;top:812.90px;font-size:14px;line-height:16.80px;color:#000;transform:scaleX(0.786);">2.54</div>
<div class="t" style="left:70.60px;top:835.30px;font-size:14px;line-height:16.80px;color:#000;transform:scaleX(0.786);">8</div>
<div class="t" style="left:122.76px;top:835.30px;font-size:14px;line-height:16.80px;color:#000;transform:scaleX(0.786);">3~</div>
<div class="t" style="left:174.92px;top:835.30px;font-size:14px;line-height:16.80px;color:#000;transform:scaleX(0.786);">400</div>
<div class="t" style="left:227.08px;top:835.30px;font-size:14px;line-height:16.80px;color:#000;transform:scaleX(0.786);">50</div>
<div class="t" style="left:279.24px;top:835.30px;font-size:14px;line-height:16.80px;color:#000;transform:scaleX(0.786);">1350</div>
<div class="t" style="left:331.40px;top:835.30px;font-size:14px;line-height:16.80px;color:#000;transform:scaleX(0.786);">2951</div>
<div class="t" style="left:383.56px;top:835.30px;font-size:14px;line-height:16.80px;color:#000;transform:scaleX(0.786);">4.57</div>
<div class="t" style="left:435.72px;top:835.30px;font-size:14px;line-height:16.80px;color:#000;transform:scaleX(0.786);">75</div>
<div class="t" style="left:487.88px;top:835.30px;font-size:14px;line-height:16.80px;color:#000;transform:scaleX(0.786);">82</div>
<div class="t" style="left:540.04px;top:835.30px;font-size:14px;line-height:16.80px;color:#000;transform:scaleX(0.786);">86</div>
<div class="t" style="left:592.20px;top:835.30px;font-size:14px;line-height:16.80px;color:#000;transform:scaleX(0.786);">7385</div>
<div class="t" style="left:644.36px;top:835.30px;font-size:14px;line-height:16.80px;color:#000;transform:scaleX(0.786);">840</div>
<div class="t" style="left:696.52px;top:835.30px;font-size:14px;line-height:16.80px;color:#000;transform:scaleX(0.786);">4345</div>
<div class="t" style="left:748.68px;top:835.30px;font-size:14px;line-height:16.80px;color:#000;transform:scaleX(0.786);">3.37</div>
<div class="t" style="left:70.60px;top:857.70px;font-size:14px;line-height:16.80px;color:#000;transform:scaleX(0.786);">9</div>
<div class="t" style="left:122.76px;top:857.70px;font-size:14px;line-height:16.80px;color:#000;transform:scaleX(0.786);">3~</div>
<div class="t" style="left:174.92px;top:857.70px;font-size:14px;line-height:16.80px;color:#000;transform:scaleX(0.786);">400</div>
<div class="t" style="left:227.08px;top:857.70px;font-size:14px;line-height:16.80px;color:#000;transform:scaleX(0.786);">50</div>
<div class="t" style="left:279.24px;top:857.70px;font-size:14px;line-height:16.80px;color:#000;transform:scaleX(0.786);">1100</div>
<div class="t" style="left:331.40px;top:857.70px;font-size:14px;line-height:16.80px;color:#000;transform:scaleX(0.786);">880</div>
<div class="t" style="left:383.56px;top:857.70px;font-size:14px;line-height:16.80px;color:#000;transform:scaleX(0.786);">1.43</div>
<div class="t" style="left:435.72px;top:857.70px;font-size:14px;line-height:16.80px;color:#000;transform:scaleX(0.786);">76</div>
<div class="t" style="left:487.88px;top:857.70px;font-size:14px;line-height:16.80px;color:#000;transform:scaleX(0.786);">84</div>
<div class="t" style="left:540.04px;top:857.70px;font-size:14px;line-height:16.80px;color:#000;transform:scaleX(0.786);">84</div>
<div class="t" style="left:592.20px;top:857.70px;font-size:14px;line-height:16.80px;color:#000;transform:scaleX(0.786);">15375</div>
<div class="t" style="left:644.36px;top:857.70px;font-size:14px;line-height:16.80px;color:#000;transform:scaleX(0.786);">0</div>
<div class="t" style="left:696.52px;top:857.70px;font-size:14px;line-height:16.80px;color:#000;transform:scaleX(0.786);">9050</div>
<div class="t" style="left:748.68px;top:857.70px;font-size:14px;line-height:16.80px;color:#000;transform:scaleX(0.786);">0.00</div>
<div class="t" style="left:70.60px;top:880.10px;font-size:14px;line-height:16.80px;color:#000;transform:scaleX(0.786);">10</div>
<div class="t" style="left:122.76px;top:880.10px;font-size:14px;line-height:16.80px;color:#000;transform:scaleX(0.786);">3~</div>
<div class="t" style="left:174.92px;top:880.10px;font-size:14px;line-height:16.80px;color:#000;transform:scaleX(0.786);">400</div>
<div class="t" style="left:227.08px;top:880.10px;font-size:14px;line-height:16.80px;color:#000;transform:scaleX(0.786);">50</div>
<div class="t" style="left:279.24px;top:880.10px;font-size:14px;line-height:16.80px;color:#000;transform:scaleX(0.786);">1100</div>
<div class="t" style="left:331.40px;top:880.10px;font-size:14px;line-height:16.80px;color:#000;transform:scaleX(0.786);">1400</div>
<div class="t" style="left:383.56px;top:880.10px;font-size:14px;line-height:16.80px;color:#000;transform:scaleX(0.786);">2.19</div>
<div class="t" style="left:435.72px;top:880.10px;font-size:14px;line-height:16.80px;color:#000;transform:scaleX(0.786);">69</div>
<div class="t" style="left:487.88px;top:880.10px;font-size:14px;line-height:16.80px;color:#000;transform:scaleX(0.786);">77</div>
<div class="t" style="left:540.04px;top:880.10px;font-size:14px;line-height:16.80px;color:#000;transform:scaleX(0.786);">79</div>
<div class="t" style="left:592.20px;top:880.10px;font-size:14px;line-height:16.80px;color:#000;transform:scaleX(0.786);">12580</div>
<div class="t" style="left:644.36px;top:880.10px;font-size:14px;line-height:16.80px;color:#000;transform:scaleX(0.786);">234</div>
<div class="t" style="left:696.52px;top:880.10px;font-size:14px;line-height:16.80px;color:#000;transform:scaleX(0.786);">7405</div>
<div class="t" style="left:748.68px;top:880.10px;font-size:14px;line-height:16.80px;color:#000;transform:scaleX(0.786);">0.94</div>
<div class="t" style="left:70.60px;top:902.50px;font-size:14px;line-height:16.80px;color:#000;transform:scaleX(0.786);">11</div>
<div class="t" style="left:122.76px;top:902.50px;font-size:14px;line-height:16.80px;color:#000;transform:scaleX(0.786);">3~</div>
<div class="t" style="left:174.92px;top:902.50px;font-size:14px;line-height:16.80px;color:#000;transform:scaleX(0.786);">400</div>
<div class="t" style="left:227.08px;top:902.50px;font-size:14px;line-height:16.80px;color:#000;transform:scaleX(0.786);">50</div>
<div class="t" style="left:279.24px;top:902.50px;font-size:14px;line-height:16.80px;color:#000;transform:scaleX(0.786);">1100</div>
<div class="t" style="left:331.40px;top:902.50px;font-size:14px;line-height:16.80px;color:#000;transform:scaleX(0.786);">1651</div>
<div class="t" style="left:383.56px;top:902.50px;font-size:14px;line-height:16.80px;color:#000;transform:scaleX(0.786);">2.55</div>
<div class="t" style="left:435.72px;top:902.50px;font-size:14px;line-height:16.80px;color:#000;transform:scaleX(0.786);">66</div>
<div class="t" style="left:487.88px;top:902.50px;font-size:14px;line-height:16.80px;color:#000;transform:scaleX(0.786);">74</div>
<div class="t" style="left:540.04px;top:902.50px;font-size:14px;line-height:16.80px;color:#000;transform:scaleX(0.786);">77</div>
<div class="t" style="left:592.20px;top:902.50px;font-size:14px;line-height:16.80px;color:#000;transform:scaleX(0.786);">9255</div>
<div class="t" style="left:644.36px;top:902.50px;font-size:14px;line-height:16.80px;color:#000;transform:scaleX(0.786);">421</div>
<div class="t" style="left:696.52px;top:902.50px;font-size:14px;line-height:16.80px;color:#000;transform:scaleX(0.786);">5445</div>
<div class="t" style="left:748.68px;top:902.50px;font-size:14px;line-height:16.80px;color:#000;transform:scaleX(0.786);">1.69</div>
<div class="t" style="left:70.60px;top:924.90px;font-size:14px;line-height:16.80px;color:#000;transform:scaleX(0.786);">12</div>
<div class="t" style="left:122.76px;top:924.90px;font-size:14px;line-height:16.80px;color:#000;transform:scaleX(0.786);">3~</div>
<div class="t" style="left:174.92px;top:924.90px;font-size:14px;line-height:16.80px;color:#000;transform:scaleX(0.786);">400</div>
<div class="t" style="left:227.08px;top:924.90px;font-size:14px;line-height:16.80px;color:#000;transform:scaleX(0.786);">50</div>
<div class="t" style="left:279.24px;top:924.90px;font-size:14px;line-height:16.80px;color:#000;transform:scaleX(0.786);">1100</div>
<div class="t" style="left:331.40px;top:924.90px;font-size:14px;line-height:16.80px;color:#000;transform:scaleX(0.786);">1597</div>
<div class="t" style="left:383.56px;top:924.90px;font-size:14px;line-height:16.80px;color:#000;transform:scaleX(0.786);">2.47</div>
<div class="t" style="left:435.72px;top:924.90px;font-size:14px;line-height:16.80px;color:#000;transform:scaleX(0.786);">70</div>
<div class="t" style="left:487.88px;top:924.90px;font-size:14px;line-height:16.80px;color:#000;transform:scaleX(0.786);">77</div>
<div class="t" style="left:540.04px;top:924.90px;font-size:14px;line-height:16.80px;color:#000;transform:scaleX(0.786);">81</div>
<div class="t" style="left:592.20px;top:924.90px;font-size:14px;line-height:16.80px;color:#000;transform:scaleX(0.786);">6015</div>
<div class="t" style="left:644.36px;top:924.90px;font-size:14px;line-height:16.80px;color:#000;transform:scaleX(0.786);">558</div>
<div class="t" style="left:696.52px;top:924.90px;font-size:14px;line-height:16.80px;color:#000;transform:scaleX(0.786);">3540</div>
<div class="t" style="left:748.68px;top:924.90px;font-size:14px;line-height:16.80px;color:#000;transform:scaleX(0.786);">2.24</div>
<div class="t" style="left:70.60px;top:947.30px;font-size:14px;line-height:16.80px;color:#000;transform:scaleX(0.786);">13</div>
<div class="t" style="left:122.76px;top:947.30px;font-size:14px;line-height:16.80px;color:#000;transform:scaleX(0.786);">3~</div>
<div class="t" style="left:174.92px;top:947.30px;font-size:14px;line-height:16.80px;color:#000;transform:scaleX(0.786);">400</div>
<div class="t" style="left:227.08px;top:947.30px;font-size:14px;line-height:16.80px;color:#000;transform:scaleX(0.786);">50</div>
<div class="t" style="left:279.24px;top:947.30px;font-size:14px;line-height:16.80px;color:#000;transform:scaleX(0.786);">850</div>
<div class="t" style="left:331.40px;top:947.30px;font-size:14px;line-height:16.80px;color:#000;transform:scaleX(0.786);">406</div>
<div class="t" style="left:383.56px;top:947.30px;font-size:14px;line-height:16.80px;color:#000;transform:scaleX(0.786);">0.66</div>
<div class="t" style="left:435.72px;top:947.30px;font-size:14px;line-height:16.80px;color:#000;transform:scaleX(0.786);">70</div>
<div class="t" style="left:487.88px;top:947.30px;font-size:14px;line-height:16.80px;color:#000;transform:scaleX(0.786);">77</div>
<div class="t" style="left:540.04px;top:947.30px;font-size:14px;line-height:16.80px;color:#000;transform:scaleX(0.786);">77</div>
<div class="t" style="left:592.20px;top:947.30px;font-size:14px;line-height:16.80px;color:#000;transform:scaleX(0.786);">11880</div>
<div class="t" style="left:644.36px;top:947.30px;font-size:14px;line-height:16.80px;color:#000;transform:scaleX(0.786);">0</div>
<div class="t" style="left:696.52px;top:947.30px;font-size:14px;line-height:16.80px;color:#000;transform:scaleX(0.786);">6990</div>
<div class="t" style="left:748.68px;top:947.30px;font-size:14px;line-height:16.80px;color:#000;transform:scaleX(0.786);">0.00</div>
<div class="t" style="left:70.60px;top:969.70px;font-size:14px;line-height:16.80px;color:#000;transform:scaleX(0.786);">14</div>
<div class="t" style="left:122.76px;top:969.70px;font-size:14px;line-height:16.80px;color:#000;transform:scaleX(0.786);">3~</div>
<div class="t" style="left:174.92px;top:969.70px;font-size:14px;line-height:16.80px;color:#000;transform:scaleX(0.786);">400</div>
<div class="t" style="left:227.08px;top:969.70px;font-size:14px;line-height:16.80px;color:#000;transform:scaleX(0.786);">50</div>
<div class="t" style="left:279.24px;top:969.70px;font-size:14px;line-height:16.80px;color:#000;transform:scaleX(0.786);">850</div>
<div class="t" style="left:331.40px;top:969.70px;font-size:14px;line-height:16.80px;color:#000;transform:scaleX(0.786);">646</div>
<div class="t" style="left:383.56px;top:969.70px;font-size:14px;line-height:16.80px;color:#000;transform:scaleX(0.786);">1.01</div>
<div class="t" style="left:435.72px;top:969.70px;font-size:14px;line-height:16.80px;color:#000;transform:scaleX(0.786);">63</div>
<div class="t" style="left:487.88px;top:969.70px;font-size:14px;line-height:16.80px;color:#000;transform:scaleX(0.786);">70</div>
<div class="t" style="left:540.04px;top:969.70px;font-size:14px;line-height:16.80px;color:#000;transform:scaleX(0.786);">72</div>
<div class="t" style="left:592.20px;top:969.70px;font-size:14px;line-height:16.80px;color:#000;transform:scaleX(0.786);">9720</div>
<div class="t" style="left:644.36px;top:969.70px;font-size:14px;line-height:16.80px;color:#000;transform:scaleX(0.786);">140</div>
<div class="t" style="left:696.52px;top:969.70px;font-size:14px;line-height:16.80px;color:#000;transform:scaleX(0.786);">5720</div>
<div class="t" style="left:748.68px;top:969.70px;font-size:14px;line-height:16.80px;color:#000;transform:scaleX(0.786);">0.56</div>
<div class="t" style="left:70.60px;top:992.10px;font-size:14px;line-height:16.80px;color:#000;transform:scaleX(0.786);">15</div>
<div class="t" style="left:122.76px;top:992.10px;font-size:14px;line-height:16.80px;color:#000;transform:scaleX(0.786);">3~</div>
<div class="t" style="left:174.92px;top:992.10px;font-size:14px;line-height:16.80px;color:#000;transform:scaleX(0.786);">400</div>
<div class="t" style="left:227.08px;top:992.10px;font-size:14px;line-height:16.80px;color:#000;transform:scaleX(0.786);">50</div>
<div class="t" style="left:279.24px;top:992.10px;font-size:14px;line-height:16.80px;color:#000;transform:scaleX(0.786);">850</div>
<div class="t" style="left:331.40px;top:992.10px;font-size:14px;line-height:16.80px;color:#000;transform:scaleX(0.786);">762</div>
<div class="t" style="left:383.56px;top:992.10px;font-size:14px;line-height:16.80px;color:#000;transform:scaleX(0.786);">1.18</div>
<div class="t" style="left:435.72px;top:992.10px;font-size:14px;line-height:16.80px;color:#000;transform:scaleX(0.786);">60</div>
<div class="t" style="left:487.88px;top:992.10px;font-size:14px;line-height:16.80px;color:#000;transform:scaleX(0.786);">67</div>
<div class="t" style="left:540.04px;top:992.10px;font-size:14px;line-height:16.80px;color:#000;transform:scaleX(0.786);">71</div>
<div class="t" style="left:592.20px;top:992.10px;font-size:14px;line-height:16.80px;color:#000;transform:scaleX(0.786);">7150</div>
<div class="t" style="left:644.36px;top:992.10px;font-size:14px;line-height:16.80px;color:#000;transform:scaleX(0.786);">251</div>
<div class="t" style="left:696.52px;top:992.10px;font-size:14px;line-height:16.80px;color:#000;transform:scaleX(0.786);">4210</div>
<div class="t" style="left:748.68px;top:992.10px;font-size:14px;line-height:16.80px;color:#000;transform:scaleX(0.786);">1.01</div>
<div class="t" style="left:70.60px;top:1014.50px;font-size:14px;line-height:16.80px;color:#000;transform:scaleX(0.786);">16</div>
<div class="t" style="left:122.76px;top:1014.50px;font-size:14px;line-height:16.80px;color:#000;transform:scaleX(0.786);">3~</div>
<div class="t" style="left:174.92px;top:1014.50px;font-size:14px;line-height:16.80px;color:#000;transform:scaleX(0.786);">400</div>
<div class="t" style="left:227.08px;top:1014.50px;font-size:14px;line-height:16.80px;color:#000;transform:scaleX(0.786);">50</div>
<div class="t" style="left:279.24px;top:1014.50px;font-size:14px;line-height:16.80px;color:#000;transform:scaleX(0.786);">850</div>
<div class="t" style="left:331.40px;top:1014.50px;font-size:14px;line-height:16.80px;color:#000;transform:scaleX(0.786);">737</div>
<div class="t" style="left:383.56px;top:1014.50px;font-size:14px;line-height:16.80px;color:#000;transform:scaleX(0.786);">1.14</div>
<div class="t" style="left:435.72px;top:1014.50px;font-size:14px;line-height:16.80px;color:#000;transform:scaleX(0.786);">63</div>
<div class="t" style="left:487.88px;top:1014.50px;font-size:14px;line-height:16.80px;color:#000;transform:scaleX(0.786);">71</div>
<div class="t" style="left:540.04px;top:1014.50px;font-size:14px;line-height:16.80px;color:#000;transform:scaleX(0.786);">74</div>
<div class="t" style="left:592.20px;top:1014.50px;font-size:14px;line-height:16.80px;color:#000;transform:scaleX(0.786);">4650</div>
<div class="t" style="left:644.36px;top:1014.50px;font-size:14px;line-height:16.80px;color:#000;transform:scaleX(0.786);">333</div>
<div class="t" style="left:696.52px;top:1014.50px;font-size:14px;line-height:16.80px;color:#000;transform:scaleX(0.786);">2735</div>
<div class="t" style="left:748.68px;top:1014.50px;font-size:14px;line-height:16.80px;color:#000;transform:scaleX(0.786);">1.34</div>
<div class="t" style="left:71.40px;top:1039.45px;font-size:10.3px;line-height:12.36px;color:#000;transform:scaleX(0.803);-webkit-text-stroke-width:0.1px;">Wired = Wiring · U = Voltage · f = Frequency · n = Speed (rpm) · P<span class="sb">ed</span> = Power consumption · I = Current draw · LpA<span class="sb">in</span> = Sound pressure level intake side · LwA<span class="sb">in</span> = Sound power level intake side</div>
<div class="t" style="left:71.40px;top:1054.45px;font-size:10.3px;line-height:12.36px;color:#000;transform:scaleX(0.803);-webkit-text-stroke-width:0.1px;">LwA<span class="sb">out</span> = Sound power level outlet side · q<span class="sb">V</span> = Air flow · p<span class="sb">fs</span> = Pressure increase</div>
</body></html>
